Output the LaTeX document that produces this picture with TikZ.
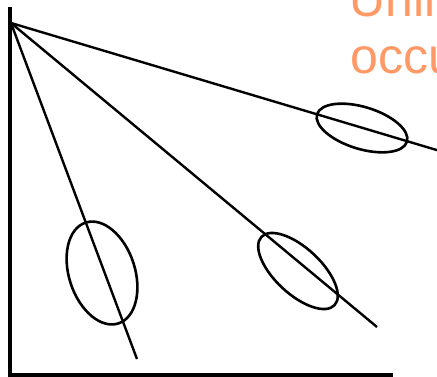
\documentclass[tikz,border=0pt]{standalone}
\usepackage{fontspec}
\setmainfont{Liberation Sans}
\definecolor{noteorange}{RGB}{255, 153, 102}
\usetikzlibrary{positioning}

\begin{document}
\begin{tikzpicture}[x=1pt, y=-1pt,
    ray/.style={line width=2.4pt, black},
    blob/.style={line width=2.6pt, black},
    note/.style={anchor=base west, inner sep=0pt, text=noteorange,
      font=\fontsize{50}{58}\selectfont}]
  \useasboundingbox (0,0) rectangle (437,376);
  \clip (0,0) rectangle (437,376);

  % Axes
  \draw[line width=3.2pt] (10,7) -- (10,375) -- (393,375);

  % Rays from the corner
  \coordinate (o) at (11,23);
  \coordinate (far) at (440,151);
  \coordinate (mid) at (377,327);
  \coordinate (near) at (137,359);
  \draw[ray] (o) -- (far);
  \draw[ray] (o) -- (mid);
  \draw[ray] (o) -- (near);

  % Ellipses on the rays
  \draw[blob, rotate around={-17:(362,128)}] (362,128) ellipse (47 and 21);
  \draw[blob, rotate around={-43:(298,271)}] (298,271) ellipse (50 and 23);
  \draw[blob, rotate around={-72:(102,273)}] (102,273) ellipse (53 and 33);

  % Note, cut at the edge
  \node[note] (unli) at (349,16) {Unli};
  \node[note] (occu) at (350,73) {occu};
\end{tikzpicture}
\end{document}
